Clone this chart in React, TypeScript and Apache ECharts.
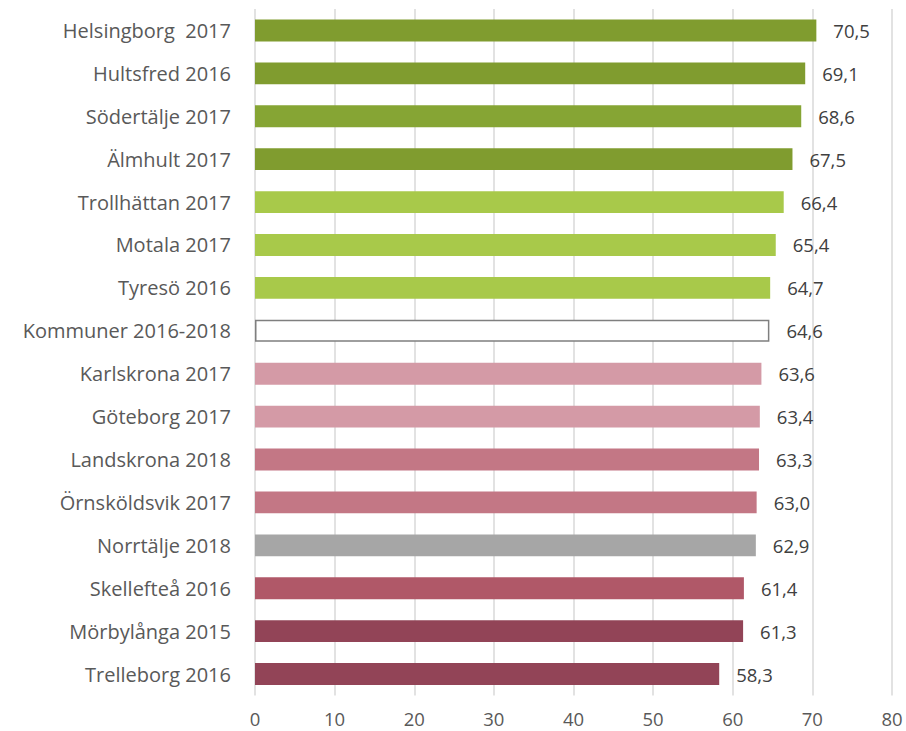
import React, { useEffect, useRef } from "react";
import * as echarts from "echarts";

const categories = [
  "Helsingborg  2017",
  "Hultsfred 2016",
  "Södertälje 2017",
  "Älmhult 2017",
  "Trollhättan 2017",
  "Motala 2017",
  "Tyresö 2016",
  "Kommuner 2016-2018",
  "Karlskrona 2017",
  "Göteborg 2017",
  "Landskrona 2018",
  "Örnsköldsvik 2017",
  "Norrtälje 2018",
  "Skellefteå 2016",
  "Mörbylånga 2015",
  "Trelleborg 2016",
];
const values = [70.5, 69.1, 68.6, 67.5, 66.4, 65.4, 64.7, 64.6, 63.6, 63.4, 63.3, 63.0, 62.9, 61.4, 61.3, 58.3];
const colors = [
  "#809C2F", "#809C2F", "#86A534", "#809C2F",
  "#A8C94A", "#A8C94A", "#A8C94A",
  "#FFFFFF",
  "#D49AA6", "#D49AA6",
  "#C37785", "#C37785",
  "#A6A6A6",
  "#B05868",
  "#924457", "#924457",
];
const xTicks = [0, 80, 10];

export default function App() {
  const ref = useRef<HTMLDivElement>(null);
  useEffect(() => {
    document.body.style.margin = "0";
    document.body.style.overflow = "hidden";
    if (!ref.current) return;
    const chart = echarts.init(ref.current, null, { renderer: "svg" });
    const font = "'Open Sans', 'Noto Sans', sans-serif";
    chart.setOption({
      animation: false,
      grid: { left: 255, right: 14, top: 9, bottom: 35.5, containLabel: false },
      xAxis: {
        type: "value",
        min: xTicks[0],
        max: xTicks[1],
        interval: xTicks[2],
        axisLine: { show: false },
        axisTick: { show: false },
        splitLine: { show: true, lineStyle: { color: "#D9D9D9", width: 1.5 } },
        axisLabel: { color: "#595959", fontSize: 18.5, fontFamily: font, margin: 13 },
      },
      yAxis: {
        type: "category",
        inverse: true,
        data: categories,
        axisLine: { show: false },
        axisTick: { show: false },
        axisLabel: { color: "#595959", fontSize: 20, fontFamily: font, margin: 24 },
      },
      series: [
        {
          type: "bar",
          barWidth: "51%",
          data: values.map((v, i) => ({
            value: v,
            itemStyle:
              i === 7
                ? { color: "#FFFFFF", borderColor: "#7F7F7F", borderWidth: 1.5 }
                : { color: colors[i] },
          })),
          label: {
            show: true,
            position: "right",
            distance: 17,
            color: "#404040",
            fontSize: 18.5,
            fontFamily: font,
            formatter: (p: any) => p.value.toFixed(1).replace(".", ","),
          },
        },
      ],
    });
    return () => chart.dispose();
  }, []);
  return <div ref={ref} style={{ width: 906, height: 731 }} />;
}
